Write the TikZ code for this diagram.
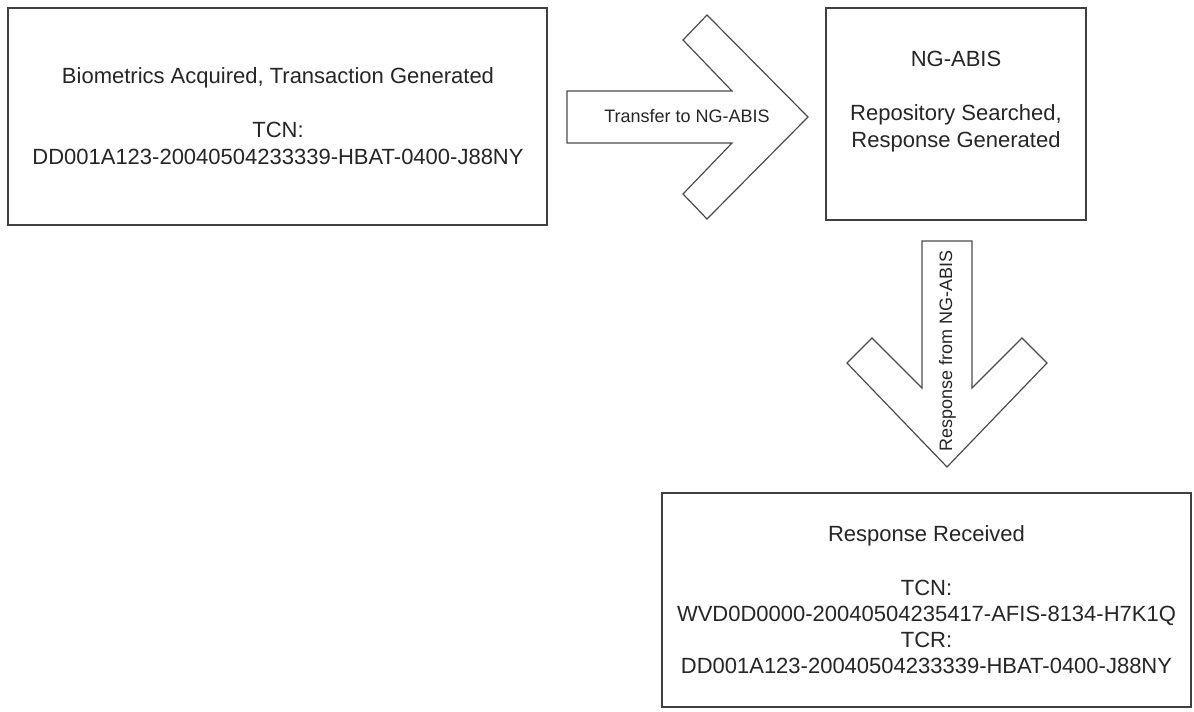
\documentclass[tikz,border=0pt]{standalone}
\usepackage{fontspec}
\setmainfont{Liberation Sans}
\begin{document}
\begin{tikzpicture}[x=1pt,y=-1pt,
  boxshape/.style={draw=black!75,line width=1.6pt,fill=white,inner sep=0pt,outer sep=0pt},
  bigarrow/.style={draw=black!70,line width=1.2pt,fill=white,line join=miter},
  txt/.style={anchor=base,inner sep=0pt,text=black!85,font=\fontsize{22}{26.7}\selectfont},
  albl/.style={anchor=base,inner sep=0pt,text=black!85,font=\fontsize{18}{21}\selectfont}]
\fill[white] (0,0) rectangle (1194,712);
\useasboundingbox (0,0) rectangle (1194,712);

% boxes
\node[boxshape,minimum width=539pt,minimum height=217pt] (b1) at (277.5,116.5) {};
\node[boxshape,minimum width=260pt,minimum height=212pt] (b2) at (956,114) {};
\node[boxshape,minimum width=529pt,minimum height=214pt] (b3) at (926.5,600) {};

% box 1 text
\node[txt] (b1a) at (278,83) {Biometrics Acquired, Transaction Generated};
\node[txt] (b1b) at (278,137) {TCN:};
\node[txt] (b1c) at (278,164) {DD001A123-20040504233339-HBAT-0400-J88NY};

% box 2 text
\node[txt] (b2a) at (956,66) {NG-ABIS};
\node[txt] (b2b) at (956,120) {Repository Searched,};
\node[txt] (b2c) at (956,147) {Response Generated};

% box 3 text
\node[txt] (b3a) at (926.5,541) {Response Received};
\node[txt] (b3b) at (926.5,595) {TCN:};
\node[txt] (b3c) at (926.5,621) {WVD0D0000-20040504235417-AFIS-8134-H7K1Q};
\node[txt] (b3d) at (926.5,647) {TCR:};
\node[txt] (b3e) at (926.5,673) {DD001A123-20040504233339-HBAT-0400-J88NY};

% arrow 1 (right)
\draw[bigarrow] (567,91) -- (732,91) -- (683,40) -- (707,15) -- (808,117)
  -- (707,219) -- (683,194) -- (732,143) -- (567,143) -- cycle;
\node[albl] (a1) at (687,122) {Transfer to NG-ABIS};

% arrow 2 (down)
\draw[bigarrow] (922,241) -- (972,241) -- (972,388) -- (1022,338) -- (1047,363)
  -- (947,467) -- (847,363) -- (872,338) -- (922,388) -- cycle;
\node[albl,rotate=90] (a2) at (952,351) {Response from NG-ABIS};
\end{tikzpicture}
\end{document}
